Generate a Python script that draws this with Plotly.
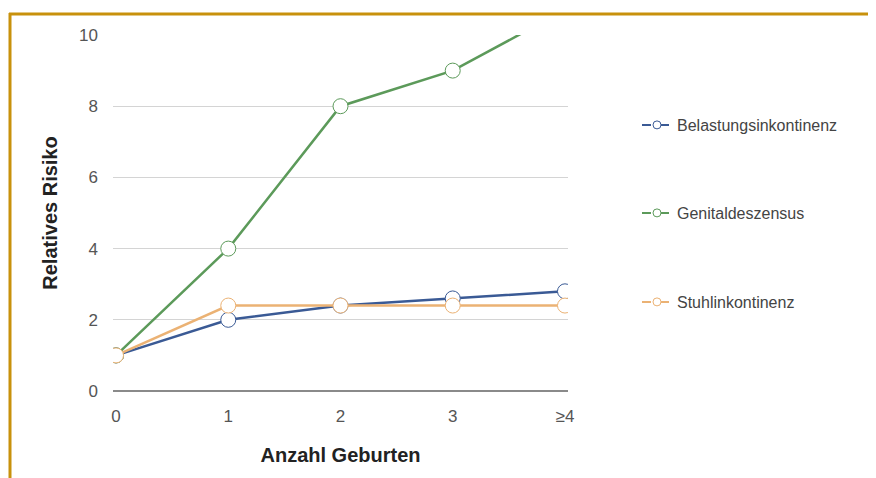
import plotly.graph_objects as go

categories = ["0", "1", "2", "3", "≥4"]
x_pos = [0, 1, 2, 3, 4]
belastung = [1.0, 2.0, 2.4, 2.6, 2.8]
genital = [1.0, 4.0, 8.0, 9.0, 10.7]
stuhl = [1.0, 2.4, 2.4, 2.4, 2.4]
series_names = ["Belastungsinkontinenz", "Genitaldeszensus", "Stuhlinkontinenz"]
colors = ["#3a5a95", "#5c9a5a", "#ebb274"]

# page has an 8px body margin: figure coords = page coords - 8
OFF = 8
W, H = 876 - OFF, 478 - OFF
L, R, T, B = 113 - OFF, W - (568 - OFF), 35 - OFF, H - (391 - OFF)
pw, ph = W - L - R, H - T - B

def px_x(px):
    return (px - OFF - L) / pw

def px_y(py):
    return (H - B - (py - OFF)) / ph

fig = go.Figure()
legend_ids = ["legend", "legend2", "legend3"]
for name, vals, col, lg in zip(series_names, [belastung, genital, stuhl], colors, legend_ids):
    fig.add_trace(go.Scatter(
        x=x_pos, y=vals, mode="lines+markers", name=name,
        line=dict(color=col, width=2.5),
        marker=dict(size=15, color="white", line=dict(color=col, width=1)),
        showlegend=False,
    ))
    fig.add_trace(go.Scatter(
        x=[None], y=[None], mode="lines+markers", name=name,
        line=dict(color=col, width=2, dash="dash"),
        marker=dict(size=8, color="white", line=dict(color=col, width=1)),
        legend=lg, showlegend=True,
    ))

legend_common = dict(font=dict(family="Liberation Sans, Arial", size=16, color="#444444"),
                     bgcolor="rgba(0,0,0,0)", xanchor="left", yanchor="middle", x=px_x(637))

fig.update_layout(
    width=W, height=H,
    margin=dict(l=L, r=R, t=T, b=B),
    paper_bgcolor="white", plot_bgcolor="white",
    font=dict(family="Liberation Sans, Arial", color="#444444"),
    showlegend=True,
    legend=dict(**legend_common, y=px_y(125)),
    legend2=dict(**legend_common, y=px_y(213)),
    legend3=dict(**legend_common, y=px_y(302)),
    xaxis=dict(
        tickmode="array", tickvals=x_pos, ticktext=categories,
        range=[-0.027, 4.027], showgrid=False, zeroline=False,
        showline=False, ticks="", ticklabelstandoff=13,
        tickfont=dict(size=17, color="#555555"),
        title=dict(text="<b>Anzahl Geburten</b>", font=dict(size=20, color="#222222"), standoff=22),
    ),
    yaxis=dict(
        range=[0, 10], tickvals=[0, 2, 4, 6, 8, 10], showgrid=True,
        gridcolor="#d4d4d4", gridwidth=1, zeroline=True, zerolinecolor="#8a8a8a",
        zerolinewidth=2, ticks="", ticklabelstandoff=14,
        tickfont=dict(size=17, color="#555555"),
        title=dict(text="<b>Relatives Risiko</b>", font=dict(size=20, color="#222222"), standoff=16),
    ),
    shapes=[
        dict(type="line", xref="paper", yref="paper", x0=px_x(9), x1=px_x(880), y0=px_y(14), y1=px_y(14),
             line=dict(color="#c8910c", width=3)),
        dict(type="line", xref="paper", yref="paper", x0=px_x(10), x1=px_x(10), y0=px_y(13), y1=px_y(480),
             line=dict(color="#c8910c", width=3)),
    ],
)

fig.write_html("out.html")
